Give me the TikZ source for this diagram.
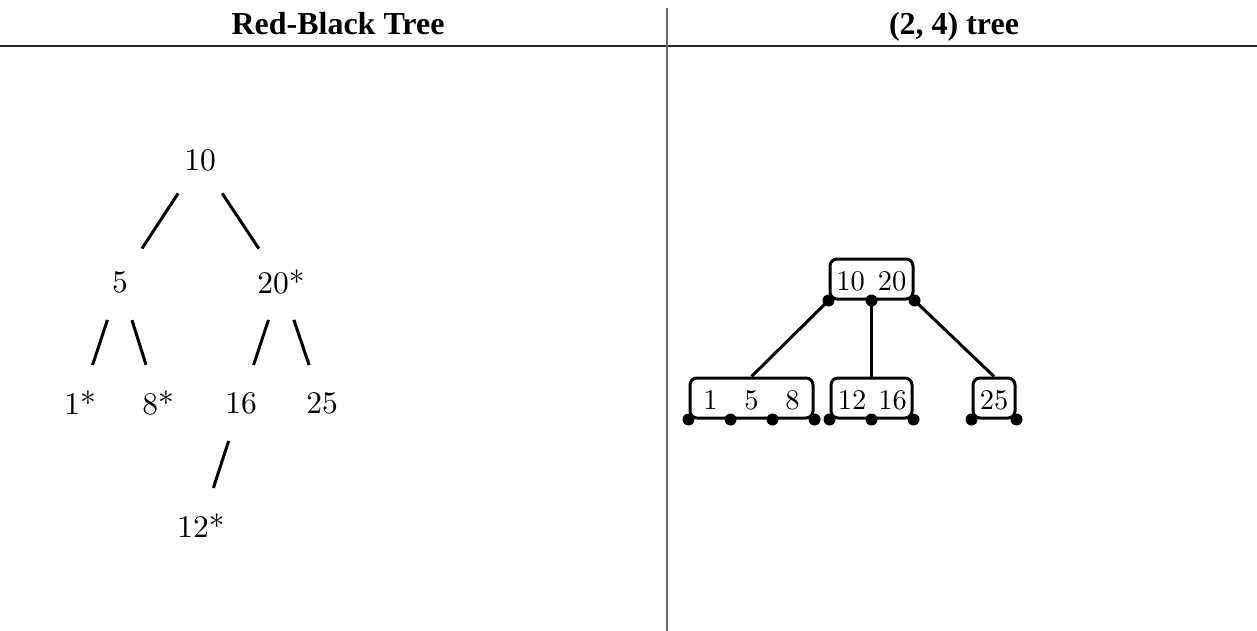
\documentclass[tikz,border=0pt]{standalone}
\usepackage{fontspec}
\usetikzlibrary{calc}
\newfontfamily\hdrfont{Liberation Serif}
\newcommand{\rbtxt}[1]{\scalebox{3.15}{#1}}
\newcommand{\btxt}[1]{\scalebox{2.85}{#1}}
\begin{document}
\begin{tikzpicture}[x=1pt,y=-1pt,
  hdr/.style={font=\hdrfont\bfseries\fontsize{32}{38}\selectfont, inner sep=0pt, anchor=base},
  rbkey/.style={inner sep=0pt},
  rbedge/.style={line width=3pt, shorten <=40pt, shorten >=40pt},
  bbox/.style={draw, line width=3pt, rounded corners=7pt, minimum height=40pt, inner sep=0pt},
  bkey/.style={inner sep=0pt},
  bdot/.style={circle, fill, inner sep=0pt, minimum size=12pt},
  bedge/.style={line width=3pt}]
\useasboundingbox (0,0) rectangle (1257,631);
% table rules
\coordinate (hl) at (0,46.5);
\coordinate (hr) at (1257,46.5);
\coordinate (vt) at (667,8);
\coordinate (vb) at (667,631);
\draw[line width=2pt, black!85] (hl) -- (hr);
\draw[line width=1.5pt, black!60] (vt) -- (vb);
\node[hdr] (h1) at (338,35) {Red-Black Tree};
\node[hdr] (h2) at (954,35) {(2, 4) tree};
% red-black tree
\node[rbkey] (r10) at (200,160) {\rbtxt{10}};
\node[rbkey] (r5)  at (120,282) {\rbtxt{5}};
\node[rbkey] (r20) at (281,282) {\rbtxt{20*}};
\node[rbkey] (r1)  at (80,403) {\rbtxt{1*}};
\node[rbkey] (r8)  at (158,403) {\rbtxt{8*}};
\node[rbkey] (r16) at (241,403) {\rbtxt{16}};
\node[rbkey] (r25) at (322,403) {\rbtxt{25}};
\node[rbkey] (r12) at (201,526) {\rbtxt{12*}};
\draw[rbedge] (r10.center) -- (r5.center);
\draw[rbedge] (r10.center) -- (r20.center);
\draw[rbedge] (r5.center) -- (r1.center);
\draw[rbedge] (r5.center) -- (r8.center);
\draw[rbedge] (r20.center) -- (r16.center);
\draw[rbedge] (r20.center) -- (r25.center);
\draw[rbedge] (r16.center) -- (r12.center);
% (2,4) tree
\node[bbox, minimum width=83pt] (top) at (871.5,279) {};
\node[bbox, minimum width=123pt] (b1) at (751.5,398) {};
\node[bbox, minimum width=81pt] (b2) at (871.5,398) {};
\node[bbox, minimum width=42pt] (b3) at (994,398) {};
\node[bkey] (k10) at (850.5,281) {\btxt{10}};
\node[bkey] (k20) at (892,281) {\btxt{20}};
\node[bkey] (k1) at (710.5,400) {\btxt{1}};
\node[bkey] (k5) at (751.5,400) {\btxt{5}};
\node[bkey] (k8) at (792.5,400) {\btxt{8}};
\node[bkey] (k12) at (852,400) {\btxt{12}};
\node[bkey] (k16) at (892.5,400) {\btxt{16}};
\node[bkey] (k25) at (994,400) {\btxt{25}};
\coordinate (t0) at (top.south west);
\coordinate (t1) at (top.south);
\coordinate (t2) at (top.south east);
\draw[bedge] (t0) -- (b1.north);
\draw[bedge] (t1) -- (b2.north);
\draw[bedge] (t2) -- (b3.north);
\foreach \p in {t0,t1,t2} \node[bdot] at (\p) {};
\node[bdot] at (b1.south west) {};
\node[bdot] at ($(b1.south west)!1/3!(b1.south east)$) {};
\node[bdot] at ($(b1.south west)!2/3!(b1.south east)$) {};
\node[bdot] at (b1.south east) {};
\node[bdot] at (b2.south west) {};
\node[bdot] at (b2.south) {};
\node[bdot] at (b2.south east) {};
\node[bdot] at (b3.south west) {};
\node[bdot] at (b3.south east) {};
\end{tikzpicture}
\end{document}
